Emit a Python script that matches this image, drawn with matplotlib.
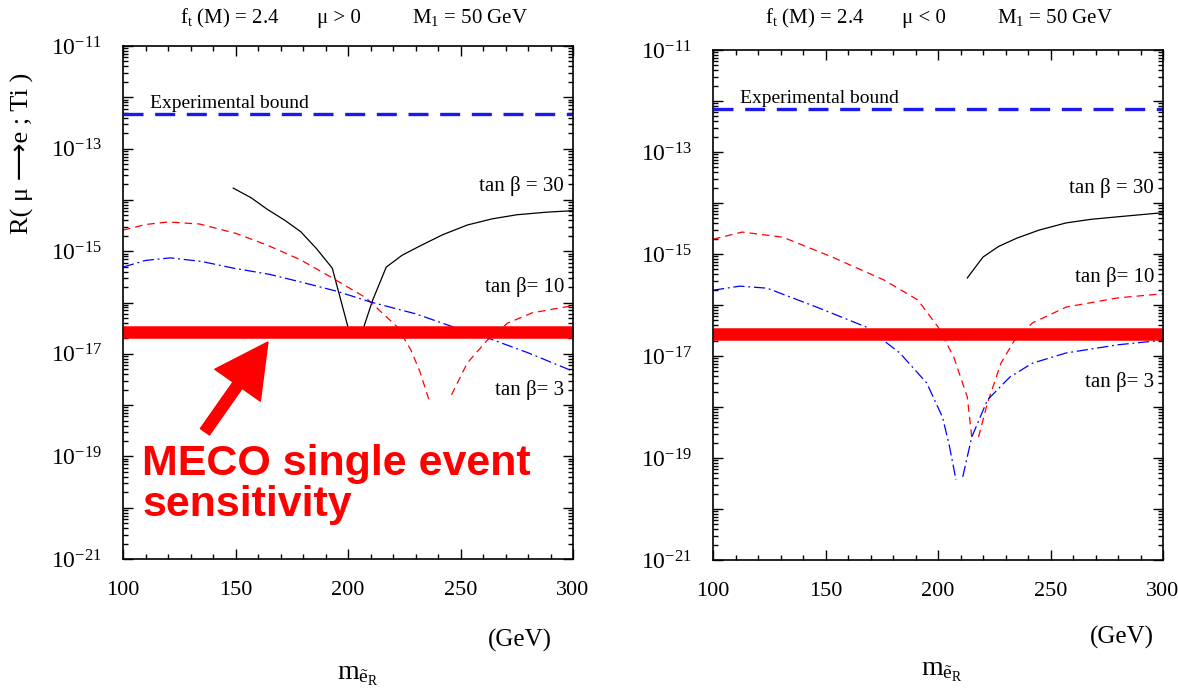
import numpy as np
import matplotlib
matplotlib.use("Agg")
from matplotlib import pyplot as plt
from matplotlib.ticker import LogLocator, MultipleLocator, FixedFormatter, FixedLocator

plt.rcParams['font.family'] = ['Liberation Serif', 'DejaVu Sans']
plt.rcParams['mathtext.fontset'] = 'custom'
plt.rcParams['mathtext.rm'] = 'Liberation Serif'
plt.rcParams['mathtext.it'] = 'Liberation Serif:italic'

nan = np.nan

# ---- data (slepton mass in GeV, log10 of the conversion rate) ----
# mu > 0 panel
mass_pos_30 = [149, 157, 164, 172, 179, 186, 193, 200, nan, 207, 211, 217, 224, 231, 242, 253, 264, 275, 288, 300]
logr_pos_30 = [-13.77, -13.96, -14.18, -14.4, -14.62, -14.95, -15.33, -16.48, nan,
               -16.48, -15.95, -15.31, -15.08, -14.92, -14.68, -14.49, -14.37, -14.29, -14.24, -14.21]

mass_pos_10 = [100, 110, 120, 134, 150, 164, 179, 193, 208, 222, 228, 232, 236,
               nan, 246, 253, 262, 271, 282, 300]
logr_pos_10 = [-14.59, -14.48, -14.43, -14.47, -14.65, -14.88, -15.17, -15.52, -15.91, -16.48, -16.93, -17.35, -17.9,
               nan, -17.8, -17.18, -16.73, -16.4, -16.2, -16.06]

mass_pos_3 = [100, 110, 121, 135, 149, 165, 179, 195, 210, 230, 247, 262, 280, 300]
logr_pos_3 = [-15.31, -15.18, -15.13, -15.2, -15.33, -15.45, -15.6, -15.78, -15.99, -16.22, -16.48, -16.69, -16.98, -17.34]

# mu < 0 panel
mass_neg_30 = [213, 220, 227, 235, 245, 257, 268, 280, 290, 300]
logr_neg_30 = [-15.47, -15.06, -14.85, -14.69, -14.53, -14.39, -14.32, -14.27, -14.23, -14.19]

mass_neg_10 = [100, 113, 131, 153, 176, 191, 200, 207, 213, 215,
               nan, 218, 222, 228, 234, 242, 257, 280, 300]
logr_neg_10 = [-14.71, -14.57, -14.67, -15.06, -15.51, -15.9, -16.43, -17.02, -17.8, -18.59,
               nan, -18.59, -17.92, -17.14, -16.69, -16.35, -16.04, -15.86, -15.78]

mass_neg_3 = [100, 112, 124, 146, 168, 183, 195, 202, 205, 208,
              nan, 211, 215, 222, 232, 242, 257, 280, 300]
logr_neg_3 = [-15.71, -15.63, -15.67, -16.04, -16.43, -16.94, -17.53, -18.2, -18.75, -19.43,
              nan, -19.37, -18.59, -17.86, -17.41, -17.14, -16.94, -16.78, -16.69]

exp_bound = {'pos': 4.7e-13, 'neg': 7.0e-13}
meco_ses = 2.7e-17

x_ticks = [100, 150, 200, 250, 300]
y_label_exps = [-21, -19, -17, -15, -13, -11]

fig = plt.figure(figsize=(11.78, 6.92), dpi=100)


def style_axes(ax):
    ax.set_xlim(100, 300)
    ax.set_yscale('log')
    ax.set_ylim(1e-21, 1e-11)
    ax.xaxis.set_major_locator(FixedLocator(x_ticks))
    ax.xaxis.set_minor_locator(MultipleLocator(10))
    ax.yaxis.set_minor_locator(LogLocator(base=10, subs=np.arange(2, 10), numticks=20))
    ax.set_yticks([10.0 ** e for e in range(-21, -10)])
    labels = []
    for e in range(-21, -10):
        labels.append(r'$\mathregular{10^{%d}}$' % e if e in y_label_exps else '')
    ax.yaxis.set_major_formatter(FixedFormatter(labels))
    ax.yaxis.set_minor_formatter(FixedFormatter([]))
    ax.tick_params(which='both', direction='in', top=True, right=True, width=1.0)
    ax.tick_params(which='major', length=7)
    ax.tick_params(which='minor', length=3.5)
    ax.tick_params(axis='x', which='major', labelsize=16, pad=16)
    ax.tick_params(axis='y', which='major', labelsize=17, pad=15)
    for s in ax.spines.values():
        s.set_linewidth(1.2)


def draw_panel(ax, m30, r30, m10, r10, m3, r3, bound):
    ax.plot(m30, 10.0 ** np.array(r30), color='black', lw=0.9)
    ax.plot(m10, 10.0 ** np.array(r10), color='red', lw=0.9, ls=(0, (6, 4)))
    ax.plot(m3, 10.0 ** np.array(r3), color='blue', lw=0.9, ls=(0, (9, 3, 1.5, 3)))
    ax.axhline(bound, color='#1a1aee', lw=2.4, ls=(0, (6, 3.5)))
    ax.axhline(meco_ses, color='red', lw=9, solid_capstyle='butt', clip_on=False)
    ax.text(112, bound * 1.08, 'Experimental bound', fontsize=14, va='bottom', ha='left')


ax1 = fig.add_axes([123 / 1178, 1 - 559 / 692, 450 / 1178, 513 / 692])
style_axes(ax1)
draw_panel(ax1, mass_pos_30, logr_pos_30, mass_pos_10, logr_pos_10, mass_pos_3, logr_pos_3, exp_bound['pos'])
ax1.text(296, 10 ** -13.73, 'tan β = 30', fontsize=15, ha='right', va='center')
ax1.text(296, 10 ** -15.69, 'tan β= 10', fontsize=15, ha='right', va='center')
ax1.text(296, 10 ** -17.71, 'tan β= 3', fontsize=15, ha='right', va='center')
ax1.annotate('', xy=(164.4, 10 ** -16.77), xytext=(136.4, 10 ** -18.52),
             arrowprops=dict(facecolor='red', edgecolor='red', width=8, headwidth=40, headlength=38))
ax1.text(108.5, 10 ** -19.55, 'MECO single event\nsensitivity', color='red', fontsize=31,
         fontweight='bold', family='Liberation Sans', ha='left', va='center', linespacing=1.02)

ax2 = fig.add_axes([713 / 1178, 1 - 560 / 692, 450 / 1178, 510 / 692])
style_axes(ax2)
draw_panel(ax2, mass_neg_30, logr_neg_30, mass_neg_10, logr_neg_10, mass_neg_3, logr_neg_3, exp_bound['neg'])
ax2.text(296, 10 ** -13.7, 'tan β = 30', fontsize=15, ha='right', va='center')
ax2.text(296, 10 ** -15.45, 'tan β= 10', fontsize=15, ha='right', va='center')
ax2.text(296, 10 ** -17.5, 'tan β= 3', fontsize=15, ha='right', va='center')

# headers
for x0, sign in [(180, '>'), (765, '<')]:
    fig.text(x0 / 1178, 1 - 18 / 692, r'$\mathrm{f_t}$ (M) = 2.4', fontsize=15, va='center')
    fig.text((x0 + 137) / 1178, 1 - 18 / 692, 'μ %s 0' % sign, fontsize=15, va='center')
    fig.text((x0 + 232) / 1178, 1 - 18 / 692, r'M$_1$ = 50 GeV', fontsize=15, va='center')

# axis labels
fig.text(22 / 1178, 1 - 153 / 692, 'R( μ ⟶e ; Ti )', rotation=90, fontsize=19, ha='center', va='center')
fig.text(520 / 1178, 1 - 640 / 692, '(GeV)', fontsize=18, ha='center', va='center')
fig.text(1122 / 1178, 1 - 637 / 692, '(GeV)', fontsize=18, ha='center', va='center')
fig.text(358 / 1178, 1 - 675 / 692, r'm$_{\tilde{\mathrm{e}}_\mathrm{R}}$', fontsize=20, ha='center', va='center')
fig.text(942 / 1178, 1 - 672 / 692, r'm$_{\tilde{\mathrm{e}}_\mathrm{R}}$', fontsize=20, ha='center', va='center')

fig.savefig('out.png', dpi=100)
